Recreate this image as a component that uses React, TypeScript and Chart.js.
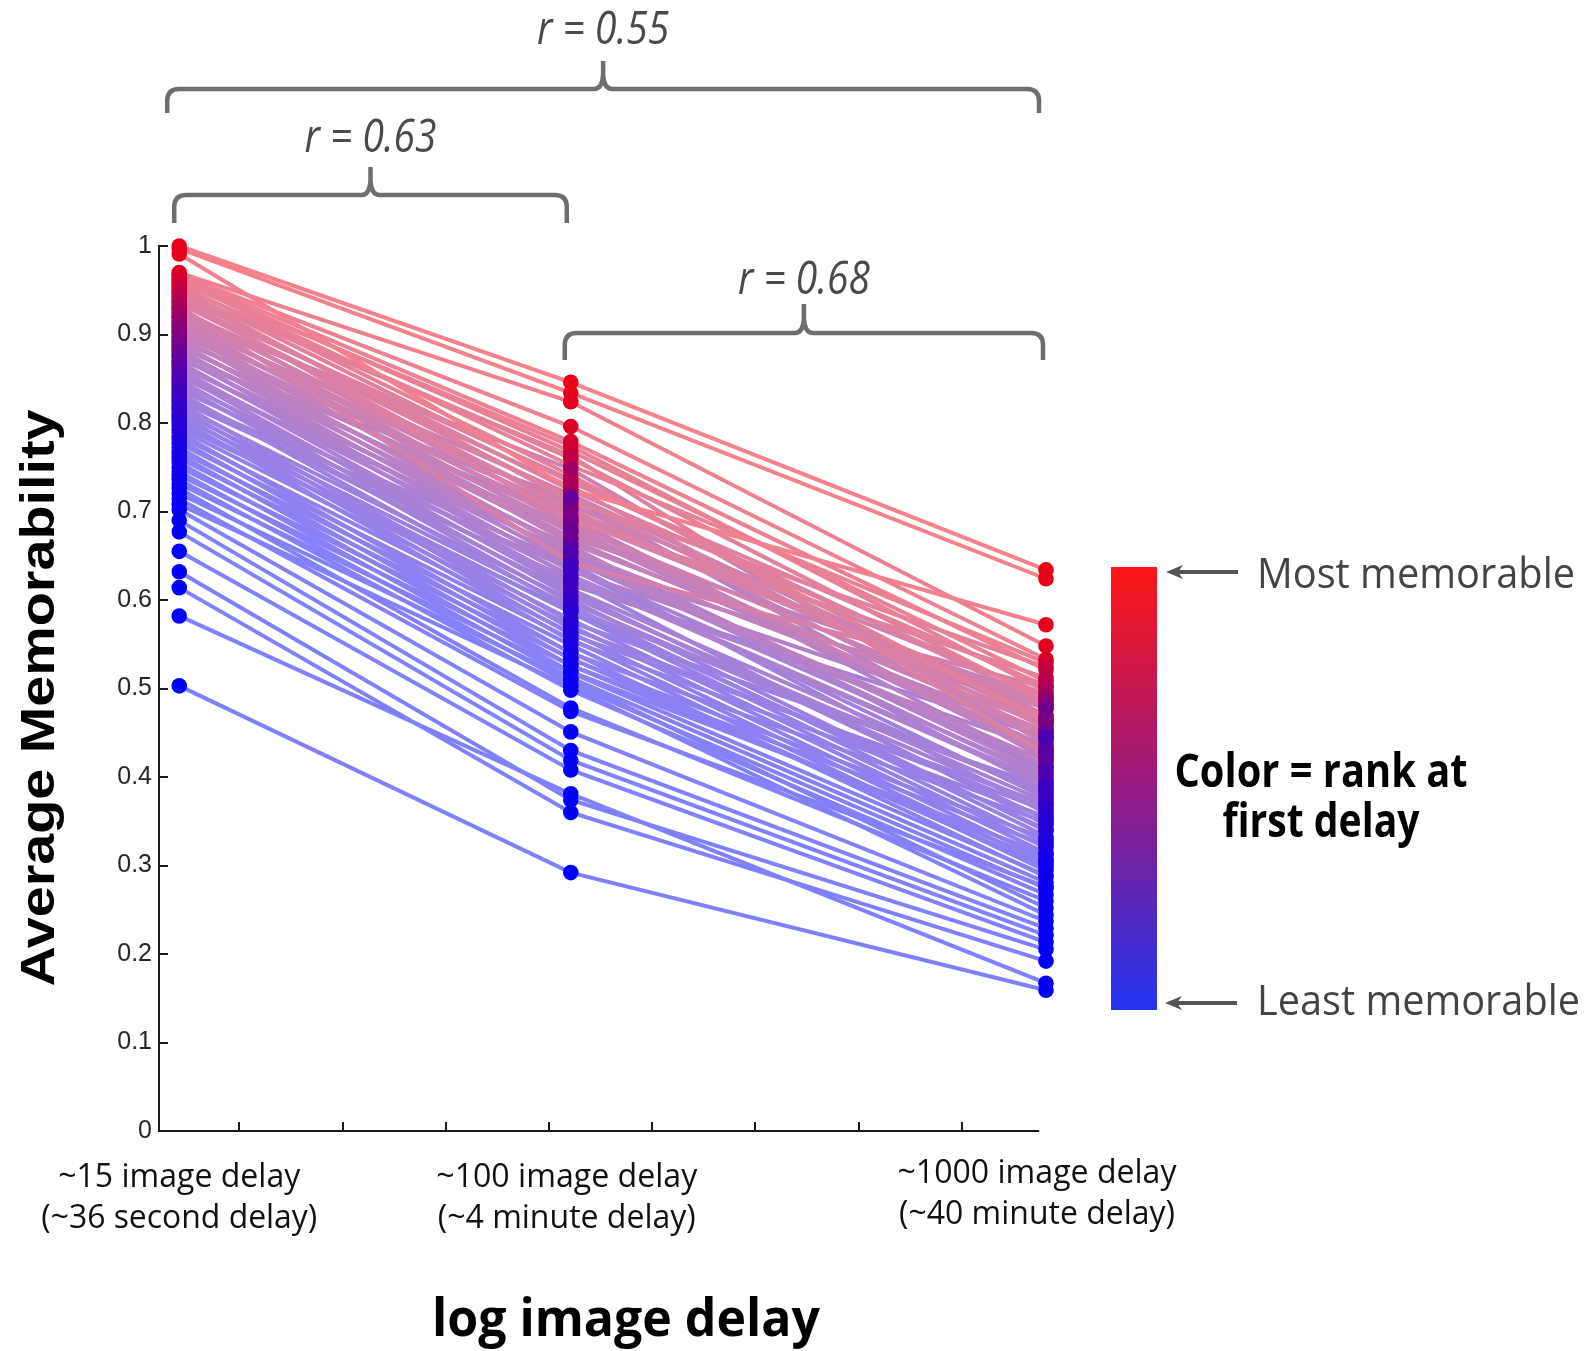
import React, { useEffect, useRef } from "react";
import { Chart, registerables } from "chart.js";

Chart.register(...registerables);

// ---------------- data ----------------
const delays = [15, 100, 1000];

const categoryLabels = [
  ["~15 image delay", "(~36 second delay)"],
  ["~100 image delay", "(~4 minute delay)"],
  ["~1000 image delay", "(~40 minute delay)"],
];

// average memorability at each delay, one entry per image
const firstDelay = [
  1.0, 0.997, 0.991,
  0.97, 0.968, 0.966, 0.963, 0.961, 0.959, 0.956, 0.954, 0.951, 0.949,
  0.947, 0.944, 0.942, 0.939, 0.937, 0.935, 0.932, 0.93, 0.927, 0.925,
  0.922, 0.92, 0.918, 0.915, 0.913, 0.91, 0.908, 0.905, 0.903, 0.901,
  0.898, 0.896, 0.893, 0.891, 0.888, 0.886, 0.883, 0.881, 0.879, 0.876,
  0.874, 0.871, 0.869, 0.866, 0.864, 0.861,
  0.858, 0.855, 0.852, 0.849, 0.846, 0.843, 0.84, 0.837, 0.834, 0.831,
  0.828, 0.825, 0.822, 0.819, 0.816, 0.813, 0.81, 0.807, 0.804, 0.801,
  0.797, 0.793, 0.789, 0.785, 0.781, 0.777, 0.772, 0.768, 0.764, 0.76,
  0.755, 0.75, 0.745, 0.741, 0.736, 0.731, 0.726, 0.72, 0.714, 0.708, 0.702, 0.69, 0.677,
  0.655, 0.632, 0.614, 0.582, 0.503,
];

const secondDelay = [
  0.846, 0.834, 0.725,
  0.824, 0.796, 0.779, 0.768, 0.752, 0.774, 0.741, 0.76, 0.733, 0.712,
  0.763, 0.724, 0.69, 0.701, 0.736, 0.716, 0.642, 0.693, 0.728, 0.706,
  0.684, 0.748, 0.697, 0.676, 0.719, 0.688, 0.664, 0.709, 0.671, 0.692,
  0.655, 0.681, 0.702, 0.647, 0.668, 0.689, 0.641, 0.659, 0.678, 0.633,
  0.651, 0.715, 0.626, 0.644, 0.661, 0.619,
  0.637, 0.612, 0.654, 0.604, 0.628, 0.597, 0.617, 0.641, 0.59, 0.609,
  0.635, 0.623, 0.575, 0.6, 0.568, 0.593, 0.561, 0.586, 0.554, 0.578,
  0.588, 0.571, 0.54, 0.563, 0.533, 0.556, 0.526, 0.549, 0.519, 0.541,
  0.512, 0.534, 0.505, 0.526, 0.498, 0.518, 0.478, 0.51, 0.474, 0.502, 0.451, 0.43, 0.419,
  0.408, 0.374, 0.36, 0.381, 0.292,
];

const thirdDelay = [
  0.634, 0.624, 0.572,
  0.548, 0.533, 0.521, 0.508, 0.529, 0.497, 0.462, 0.486, 0.503, 0.524,
  0.425, 0.491, 0.512, 0.468, 0.483, 0.455, 0.501, 0.477, 0.446, 0.493,
  0.462, 0.437, 0.481, 0.451, 0.47, 0.429, 0.459, 0.441, 0.488, 0.423,
  0.449, 0.434, 0.465, 0.418, 0.443, 0.411, 0.478, 0.404, 0.427, 0.452,
  0.397, 0.42, 0.392, 0.413, 0.386, 0.431,
  0.401, 0.379, 0.408, 0.372, 0.394, 0.366, 0.445, 0.359, 0.383, 0.352,
  0.376, 0.346, 0.388, 0.339, 0.362, 0.333, 0.369, 0.326, 0.355, 0.32,
  0.341, 0.314, 0.349, 0.307, 0.33, 0.301, 0.323, 0.294, 0.312, 0.287,
  0.281, 0.298, 0.274, 0.305, 0.267, 0.289, 0.26, 0.252, 0.276, 0.244, 0.237, 0.229, 0.221,
  0.213, 0.205, 0.192, 0.167, 0.159,
];

// minor tick positions on the log (natural log) delay axis
const xTickValues = [3, 3.5, 4, 4.5, 5, 5.5, 6, 6.5];
const xAxisStart = 2.61;
const xAxisEnd = 6.875;

// correlations between delays (pairs of delay indices)
const correlationPairs = [
  [0, 1],
  [1, 2],
  [0, 2],
];
const correlationValues = ["0.63", "0.68", "0.55"];

const legendTop = "Most memorable";
const legendBottom = "Least memorable";
const legendMiddle = ["Color = rank at", "first delay"];
const yTitle = "Average Memorability";
const xTitle = "log image delay";

// ---------------- helpers ----------------
const series = [firstDelay, secondDelay, thirdDelay];
const N = firstDelay.length;
const order = firstDelay.map((_, i) => i).sort((a, b) => firstDelay[b] - firstDelay[a]);
const rankFrac: number[] = new Array(N);
order.forEach((idx, r) => {
  rankFrac[idx] = 1 - r / (N - 1); // 1 = most memorable
});

const RED = [236, 0, 22];
const BLUE = [0, 0, 255];
const COLOR_GAMMA = 1.4;
function mix(t: number) {
  const u = Math.pow(t, COLOR_GAMMA);
  return RED.map((v, k) => v * u + BLUE[k] * (1 - u));
}
function pointColor(t: number) {
  const c = mix(t).map(Math.round);
  return `rgb(${c[0]},${c[1]},${c[2]})`;
}
function lineColor(t: number) {
  const c = mix(t).map((v) => Math.round(0.5 * v + 0.5 * 255));
  return `rgb(${c[0]},${c[1]},${c[2]})`;
}

function fitText(
  ctx: CanvasRenderingContext2D,
  text: string,
  x: number,
  y: number,
  width: number,
  font: string,
  color: string,
  align: CanvasTextAlign = "center"
) {
  ctx.save();
  ctx.font = font;
  ctx.fillStyle = color;
  ctx.textBaseline = "alphabetic";
  ctx.textAlign = align;
  const w = ctx.measureText(text).width || 1;
  ctx.translate(x, y);
  ctx.scale(width / w, 1);
  ctx.fillText(text, 0, 0);
  ctx.restore();
}

function drawBracket(
  ctx: CanvasRenderingContext2D,
  x1: number,
  x2: number,
  yh: number,
  yEnd: number,
  yPeak: number
) {
  const xm = (x1 + x2) / 2;
  const R = 12;
  ctx.beginPath();
  ctx.moveTo(x1, yEnd);
  ctx.lineTo(x1, yh + R);
  ctx.quadraticCurveTo(x1, yh, x1 + R, yh);
  ctx.lineTo(xm - 9, yh);
  ctx.quadraticCurveTo(xm - 1, yh, xm, yh - 14);
  ctx.lineTo(xm, yPeak);
  ctx.moveTo(x2, yEnd);
  ctx.lineTo(x2, yh + R);
  ctx.quadraticCurveTo(x2, yh, x2 - R, yh);
  ctx.lineTo(xm + 9, yh);
  ctx.quadraticCurveTo(xm + 1, yh, xm, yh - 14);
  ctx.stroke();
}

function drawArrow(ctx: CanvasRenderingContext2D, xTail: number, xTip: number, y: number) {
  ctx.beginPath();
  ctx.moveTo(xTail, y);
  ctx.lineTo(xTip + 10, y);
  ctx.stroke();
  ctx.beginPath();
  ctx.moveTo(xTip, y);
  ctx.lineTo(xTip + 17, y - 7);
  ctx.lineTo(xTip + 12, y);
  ctx.lineTo(xTip + 17, y + 7);
  ctx.closePath();
  ctx.fill();
}

const overlayPlugin = {
  id: "overlay",
  afterDraw(chart: any) {
    const ctx: CanvasRenderingContext2D = chart.ctx;
    const xs = chart.scales.x;
    const ys = chart.scales.y;
    const area = chart.chartArea;
    const px = delays.map((d) => xs.getPixelForValue(Math.log(d)));

    // x axis line and inward tick marks
    ctx.save();
    ctx.strokeStyle = "#1a1a1a";
    ctx.lineWidth = 2;
    ctx.beginPath();
    ctx.moveTo(area.left - 1, area.bottom);
    ctx.lineTo(xs.getPixelForValue(xAxisEnd), area.bottom);
    ctx.stroke();
    xTickValues.forEach((v) => {
      const p = Math.round(xs.getPixelForValue(v));
      ctx.beginPath();
      ctx.moveTo(p, area.bottom);
      ctx.lineTo(p, area.bottom - 9);
      ctx.stroke();
    });
    ys.ticks.forEach((t: any) => {
      const p = Math.round(ys.getPixelForValue(t.value));
      ctx.beginPath();
      ctx.moveTo(area.left, p);
      ctx.lineTo(area.left + 9, p);
      ctx.stroke();
    });
    ctx.restore();

    // category labels under the axis
    const catOffsets = [0, -4, -9];
    const catBase = [
      [1187, 1228],
      [1187, 1228],
      [1183, 1224],
    ];
    const catWidths = [
      [242, 276],
      [261, 258],
      [279, 276],
    ];
    categoryLabels.forEach((lines, i) => {
      lines.forEach((txt, j) => {
        fitText(ctx, txt, px[i] + catOffsets[i], catBase[i][j], catWidths[i][j], "32px 'Open Sans'", "#111");
      });
    });

    // axis titles
    fitText(ctx, xTitle, 626, 1336, 388, "bold 52px 'Open Sans'", "#000");
    ctx.save();
    ctx.translate(54, 698);
    ctx.rotate(-Math.PI / 2);
    fitText(ctx, yTitle, 0, 0, 577, "bold 48px 'Liberation Sans'", "#000");
    ctx.restore();

    // correlation brackets
    const bracketGeom = [
      { dx1: -5, dx2: -4, yh: 195, yEnd: 223, yPeak: 167, base: 152 },
      { dx1: -6, dx2: -3, yh: 333, yEnd: 360, yPeak: 304, base: 294 },
      { dx1: -12, dx2: -7, yh: 89, yEnd: 113, yPeak: 61, base: 44 },
    ];
    ctx.save();
    ctx.strokeStyle = "#6e6e6e";
    ctx.lineWidth = 4.5;
    ctx.lineJoin = "round";
    correlationPairs.forEach((pair, k) => {
      const g = bracketGeom[k];
      const x1 = px[pair[0]] + g.dx1;
      const x2 = px[pair[1]] + g.dx2;
      drawBracket(ctx, x1, x2, g.yh, g.yEnd, g.yPeak);
      fitText(ctx, `r = ${correlationValues[k]}`, (x1 + x2) / 2, g.base, 132, "italic 46px 'Open Sans'", "#4a4a4a");
    });
    ctx.restore();

    // colorbar
    const cb = { x: 1111, y: 567, w: 46, h: 443 };
    const grad = ctx.createLinearGradient(0, cb.y, 0, cb.y + cb.h);
    grad.addColorStop(0, "rgb(255,22,22)");
    grad.addColorStop(0.5, "rgb(150,26,130)");
    grad.addColorStop(1, "rgb(32,52,240)");
    ctx.save();
    ctx.fillStyle = grad;
    ctx.fillRect(cb.x, cb.y, cb.w, cb.h);
    ctx.strokeStyle = "#555";
    ctx.fillStyle = "#555";
    ctx.lineWidth = 4;
    drawArrow(ctx, 1238, 1166, 572);
    drawArrow(ctx, 1237, 1165, 1003);
    ctx.restore();

    fitText(ctx, legendTop, 1257, 588, 318, "42px 'Open Sans'", "#444", "left");
    fitText(ctx, legendBottom, 1257, 1015, 323, "42px 'Open Sans'", "#444", "left");
    fitText(ctx, legendMiddle[0], 1321, 787, 293, "bold 46px 'Open Sans'", "#000");
    fitText(ctx, legendMiddle[1], 1321, 837, 197, "bold 46px 'Open Sans'", "#000");
  },
};

function buildConfig(): any {
  const xVals = delays.map((d) => Math.log(d));
  const pointSets = delays.map((_, k) => ({
    label: `delay ${delays[k]}`,
    data: order.map((i) => ({ x: xVals[k], y: series[k][i] })),
    showLine: false,
    pointRadius: 7.8,
    pointBorderWidth: 0,
    pointBackgroundColor: order.map((i) => pointColor(rankFrac[i])),
    pointBorderColor: order.map((i) => pointColor(rankFrac[i])),
    clip: false,
  }));
  const lineSets = order.map((i) => ({
    label: `image ${i}`,
    data: xVals.map((x, k) => ({ x, y: series[k][i] })),
    borderColor: lineColor(rankFrac[i]),
    borderWidth: 4,
    pointRadius: 0,
    fill: false,
    tension: 0,
    clip: false,
  }));
  return {
    type: "line",
    data: { datasets: [...pointSets, ...lineSets] },
    options: {
      responsive: false,
      animation: false,
      devicePixelRatio: 1,
      events: [],
      layout: { padding: { left: 0, top: 246, right: 541, bottom: 220 } },
      plugins: { legend: { display: false }, tooltip: { enabled: false }, title: { display: false } },
      scales: {
        x: {
          type: "linear",
          min: xAxisStart,
          max: Math.log(delays[2]),
          ticks: { display: false },
          grid: { display: false, drawTicks: false },
          border: { display: false },
          afterFit: (s: any) => {
            s.height = 0;
          },
        },
        y: {
          type: "linear",
          min: 0,
          max: 1,
          ticks: {
            stepSize: 0.1,
            padding: 7,
            color: "#262626",
            font: { family: "'Liberation Sans'", size: 25 },
            callback: (v: any) => String(Number(Number(v).toFixed(1))),
          },
          grid: { display: false, drawTicks: false },
          border: { display: true, color: "#1a1a1a", width: 2 },
          afterFit: (s: any) => {
            s.width = 159;
          },
        },
      },
    },
    plugins: [overlayPlugin],
  };
}

export default function App() {
  const ref = useRef<HTMLCanvasElement>(null);
  useEffect(() => {
    const canvas = ref.current;
    if (!canvas) return;
    const chart = new Chart(canvas, buildConfig());
    return () => chart.destroy();
  }, []);
  return (
    <div style={{ position: "absolute", left: 0, top: 0, width: 1587, height: 1351, background: "#fff" }}>
      <canvas ref={ref} width={1587} height={1351} style={{ width: 1587, height: 1351, display: "block" }} />
    </div>
  );
}
